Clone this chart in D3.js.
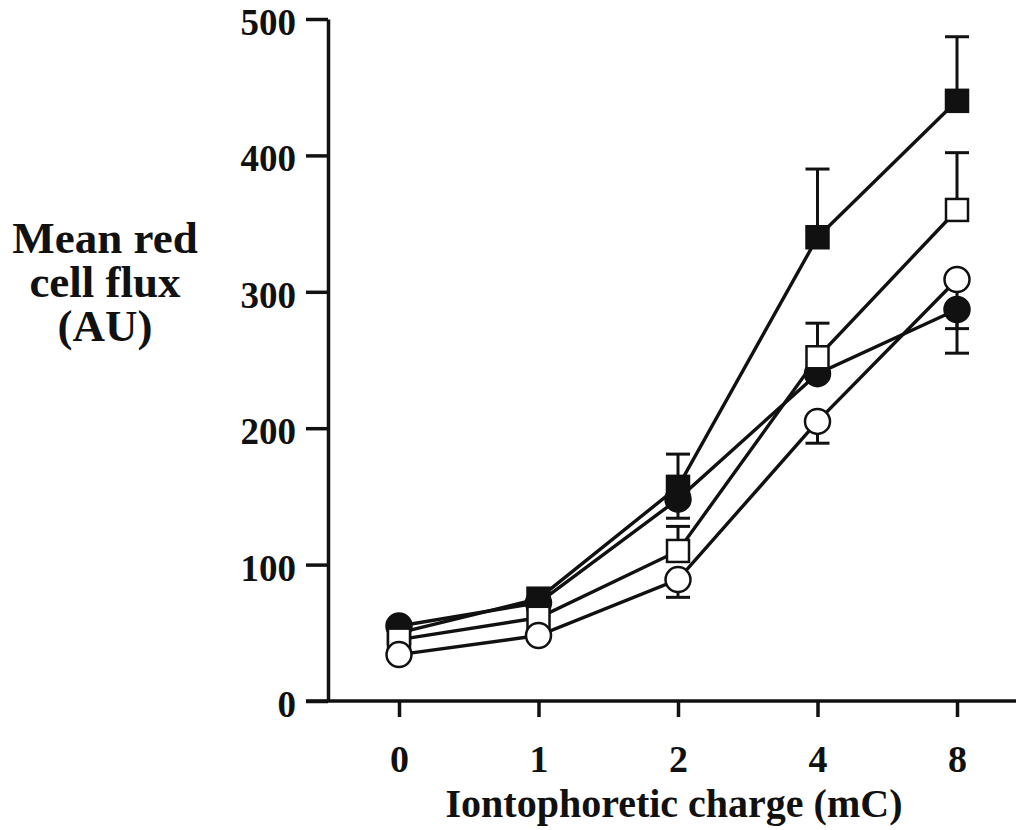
<!DOCTYPE html>
<html>
<head>
<meta charset="utf-8">
<script src="https://cdn.jsdelivr.net/npm/d3@7"></script>
<style>
  html, body { margin: 0; padding: 0; background: #fff; }
  svg { display: block; }
  text { font-family: "Liberation Serif", "Times New Roman", serif; font-weight: bold; fill: #111; }
</style>
</head>
<body>
<svg id="chart" width="1019" height="830"></svg>
<script>
// Iontophoretic charge levels (mC) on the x axis
const charges = ["0", "1", "2", "4", "8"];
const yTicks = [0, 100, 200, 300, 400, 500];

// Mean red cell flux (AU) per series
const filledSquare = [50, 75, 157, 340, 440];
const filledCircle = [55, 72, 148, 240, 287];
const openSquare   = [45, 61, 110, 252, 360];
const openCircle   = [34, 48, 89, 205, 309];

// Error bar ends (only where a bar is drawn; null = none)
const filledSquareErr = [null, null, 181, 390, 487];
const filledCircleErr = [null, null, 134, null, 273];
const openSquareErr   = [null, null, 128, 277, 402];
const openCircleErr   = [null, null, 76, 189, 255];

const series = [
  { values: filledSquare, err: filledSquareErr, shape: "square", fill: "#111" },
  { values: filledCircle, err: filledCircleErr, shape: "circle", fill: "#111" },
  { values: openSquare,   err: openSquareErr,   shape: "square", fill: "#fff" },
  { values: openCircle,   err: openCircleErr,   shape: "circle", fill: "#fff" }
];

const svg = d3.select("#chart");
const ink = "#111";

const x = d3.scalePoint().domain(charges).range([399, 957]);
const y = d3.scaleLinear().domain([0, 500]).range([701, 19]);

// Y axis
const yAxis = d3.axisLeft(y).tickValues(yTicks).tickSize(22).tickPadding(10).tickSizeOuter(0);
const gy = svg.append("g").attr("transform", "translate(328,0)").call(yAxis);
gy.select(".domain").attr("stroke", ink).attr("stroke-width", 3.5);
gy.selectAll(".tick line").attr("stroke", ink).attr("stroke-width", 3.5);
gy.selectAll(".tick text").attr("font-size", 37).attr("fill", ink).attr("dy", "0.42em")
  .attr("font-family", "Liberation Serif").attr("font-weight", "bold");

// X axis: line runs from left of the y axis to the right edge
svg.append("line").attr("x1", 306).attr("x2", 1016).attr("y1", y(0)).attr("y2", y(0))
  .attr("stroke", ink).attr("stroke-width", 3.5);
const xAxis = d3.axisBottom(x).tickSize(16).tickPadding(28).tickSizeOuter(0);
const gx = svg.append("g").attr("transform", `translate(0,${y(0)})`).call(xAxis);
gx.select(".domain").remove();
gx.selectAll(".tick line").attr("stroke", ink).attr("stroke-width", 3.5);
gx.selectAll(".tick text").attr("font-size", 38).attr("fill", ink)
  .attr("font-family", "Liberation Serif").attr("font-weight", "bold");

// Axis titles
svg.append("text").attr("x", 674).attr("y", 817).attr("text-anchor", "middle")
  .attr("font-size", 40).text("Iontophoretic charge (mC)");
const yTitle = svg.append("text").attr("text-anchor", "middle").attr("font-size", 45);
["Mean red", "cell flux", "(AU)"].forEach((t, i) => {
  yTitle.append("tspan").attr("x", 105).attr("y", 253 + i * 44).text(t);
});

// Error bars
const cap = 12;
series.forEach(s => {
  s.values.forEach((v, i) => {
    const e = s.err[i];
    if (e === null) return;
    const cx = x(charges[i]);
    svg.append("line").attr("x1", cx).attr("x2", cx).attr("y1", y(v)).attr("y2", y(e))
      .attr("stroke", ink).attr("stroke-width", 3);
    svg.append("line").attr("x1", cx - cap).attr("x2", cx + cap).attr("y1", y(e)).attr("y2", y(e))
      .attr("stroke", ink).attr("stroke-width", 3);
  });
});

// Connecting lines
const line = d3.line().x((d, i) => x(charges[i])).y(d => y(d));
series.forEach(s => {
  svg.append("path").attr("d", line(s.values)).attr("fill", "none")
    .attr("stroke", ink).attr("stroke-width", 3.4);
});

// Markers
series.forEach(s => {
  const g = svg.append("g");
  s.values.forEach((v, i) => {
    const cx = x(charges[i]), cy = y(v);
    if (s.shape === "square") {
      g.append("rect").attr("x", cx - 11).attr("y", cy - 11).attr("width", 22).attr("height", 22)
        .attr("fill", s.fill).attr("stroke", ink).attr("stroke-width", 2.5);
    } else {
      g.append("circle").attr("cx", cx).attr("cy", cy).attr("r", 12.5)
        .attr("fill", s.fill).attr("stroke", ink).attr("stroke-width", 2.5);
    }
  });
});
</script>
</body>
</html>
